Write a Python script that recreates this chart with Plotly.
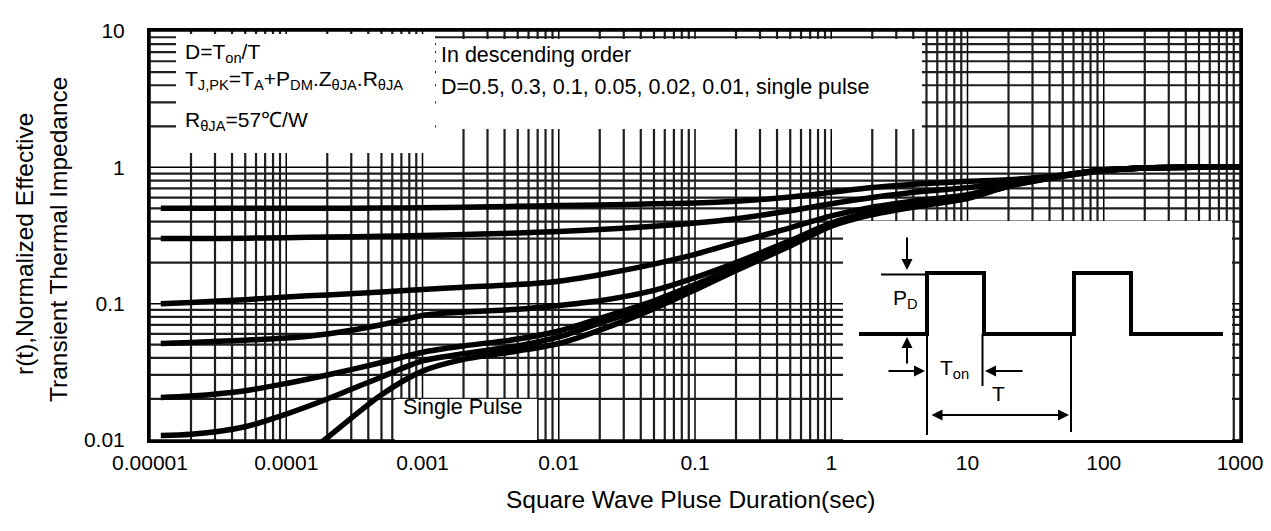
import math
import plotly.graph_objects as go

# ---------------- data ----------------
t_main = [1.2e-5, 2e-5, 5e-5, 1e-4, 2e-4, 5e-4, 1e-3, 2e-3, 5e-3, 1e-2, 2e-2, 5e-2,
          0.1, 0.2, 0.5, 1, 2, 5, 10, 20, 50, 100, 200, 500, 1000]
r_d050 = [0.500, 0.500, 0.500, 0.500, 0.501, 0.503, 0.505, 0.510, 0.518, 0.525, 0.530, 0.540,
          0.547, 0.565, 0.605, 0.655, 0.710, 0.760, 0.790, 0.810, 0.880, 0.960, 0.990, 1.0, 1.0]
r_d030 = [0.300, 0.300, 0.302, 0.305, 0.308, 0.312, 0.316, 0.322, 0.330, 0.338, 0.350, 0.370,
          0.390, 0.420, 0.480, 0.540, 0.600, 0.670, 0.710, 0.780, 0.875, 0.955, 0.990, 1.0, 1.0]
r_d010 = [0.100, 0.102, 0.107, 0.112, 0.116, 0.122, 0.127, 0.132, 0.138, 0.146, 0.163, 0.195,
          0.230, 0.280, 0.360, 0.440, 0.510, 0.580, 0.630, 0.750, 0.870, 0.950, 0.990, 1.0, 1.0]
r_d005 = [0.051, 0.052, 0.054, 0.056, 0.060, 0.070, 0.082, 0.087, 0.091, 0.097, 0.105, 0.125,
          0.155, 0.200, 0.290, 0.390, 0.470, 0.550, 0.610, 0.740, 0.870, 0.950, 0.990, 1.0, 1.0]
r_d002 = [0.0205, 0.021, 0.023, 0.026, 0.030, 0.037, 0.044, 0.049, 0.055, 0.063, 0.078, 0.105,
          0.138, 0.185, 0.275, 0.380, 0.460, 0.540, 0.600, 0.735, 0.870, 0.950, 0.990, 1.0, 1.0]
r_d001 = [0.0108, 0.011, 0.0125, 0.0155, 0.020, 0.029, 0.038, 0.043, 0.049, 0.057, 0.072, 0.098,
          0.132, 0.180, 0.270, 0.375, 0.455, 0.535, 0.595, 0.730, 0.865, 0.950, 0.990, 1.0, 1.0]
t_single = [1.5e-4, 2e-4, 5e-4, 1e-3, 2e-3, 5e-3, 1e-2, 2e-2, 5e-2,
            0.1, 0.2, 0.5, 1, 2, 5, 10, 20, 50, 100, 200, 500, 1000]
r_single = [0.0082, 0.0104, 0.0215, 0.032, 0.039, 0.045, 0.051, 0.064, 0.092,
            0.126, 0.175, 0.265, 0.370, 0.450, 0.530, 0.590, 0.725, 0.860, 0.945, 0.990, 1.0, 1.0]

x_tickvals = [1e-5, 1e-4, 1e-3, 1e-2, 1e-1, 1, 10, 100, 1000]
x_ticktext = ["0.00001", "0.0001", "0.001", "0.01", "0.1", "1", "10", "100", "1000"]
y_tickvals = [0.01, 0.1, 1, 10]
y_ticktext = ["0.01", "0.1", "1", "10"]

x_minor = [k * 10.0 ** d for d in range(-5, 3) for k in range(2, 10)]
y_minor = [k * 10.0 ** d for d in range(-2, 1) for k in range(2, 10)]

X_RANGE = [-5, 3]
Y_RANGE = [-2, 1]

FONT = "Liberation Sans, Arial, Helvetica, sans-serif"
W, H = 1271, 531
L, R, T, B = 142, 1232, 23, 432


def px(x):
    return (x - L) / (R - L)


def py(y):
    return (B - y) / (B - T)


def xdom(v):
    return (math.log10(v) - X_RANGE[0]) / (X_RANGE[1] - X_RANGE[0])


def ydom(v):
    return (math.log10(v) - Y_RANGE[0]) / (Y_RANGE[1] - Y_RANGE[0])


fig = go.Figure()
for tt, rr in [(t_main, r_d050), (t_main, r_d030), (t_main, r_d010), (t_main, r_d005),
               (t_main, r_d002), (t_main, r_d001), (t_single, r_single)]:
    fig.add_trace(go.Scatter(x=tt, y=rr, mode="lines",
                             line=dict(color="black", width=5.5, shape="spline", smoothing=0.8),
                             hoverinfo="skip", showlegend=False))

shapes = []
# grid drawn as background shapes (so white boxes can cover it while curves stay on top)
for v in x_minor:
    shapes.append(dict(type="line", xref="x domain", yref="y domain", x0=xdom(v), x1=xdom(v),
                       y0=0, y1=1, line=dict(color="#1e1e1e", width=2.2), layer="below"))
for v in x_tickvals:
    shapes.append(dict(type="line", xref="x domain", yref="y domain", x0=xdom(v), x1=xdom(v),
                       y0=0, y1=1, line=dict(color="black", width=1.5), layer="below"))
for v in y_minor:
    shapes.append(dict(type="line", xref="x domain", yref="y domain", y0=ydom(v), y1=ydom(v),
                       x0=0, x1=1, line=dict(color="#1e1e1e", width=2.2), layer="below"))
for v in y_tickvals:
    shapes.append(dict(type="line", xref="x domain", yref="y domain", y0=ydom(v), y1=ydom(v),
                       x0=0, x1=1, line=dict(color="black", width=1.5), layer="below"))

# white boxes covering the grid
for (x0, y0, x1, y1) in [(168, 26, 427, 145), (428, 31, 914, 121),
                         (387, 391, 529, 432), (835, 213, 1224, 432)]:
    shapes.append(dict(type="rect", xref="x domain", yref="y domain",
                       x0=px(x0), x1=px(x1), y0=py(y1), y1=py(y0),
                       fillcolor="white", line=dict(width=0), layer="below"))

# inset waveform
wave = [(851, 326), (919, 326), (919, 265), (976, 265), (976, 326), (1066, 326),
        (1066, 265), (1123, 265), (1123, 326), (1215, 326)]
path = "M " + " L ".join(f"{px(a):.5f},{py(b):.5f}" for a, b in wave)
shapes.append(dict(type="path", xref="paper", yref="paper", path=path,
                   line=dict(color="black", width=4), layer="above"))
for (x0, y0, x1, y1) in [(873, 266.5, 919, 266.5), (919, 326, 919, 427),
                         (974.5, 326, 974.5, 378), (1063, 326, 1063, 424)]:
    shapes.append(dict(type="line", xref="paper", yref="paper",
                       x0=px(x0), y0=py(y0), x1=px(x1), y1=py(y1),
                       line=dict(color="black", width=2), layer="above"))

ann = []
def txt(s, x, y, size=21, xanchor="left", **kw):
    ann.append(dict(text=s, x=px(x), y=py(y), xref="paper", yref="paper",
                    xanchor=xanchor, yanchor="middle", showarrow=False,
                    font=dict(family=FONT, size=size, color="black"), **kw))

txt("D=T<sub>on</sub>/T", 175, 45)
txt("T<sub>J,PK</sub>=T<sub>A</sub>+P<sub>DM</sub>.Z<sub>θJA</sub>.R<sub>θJA</sub>", 175, 72)
txt("R<sub>θJA</sub>=57℃/W", 175, 113)
txt("In descending order", 431, 47, size=21.5)
txt("D=0.5, 0.3, 0.1, 0.05, 0.02, 0.01, single pulse", 431, 79, size=21.5)
txt("Single Pulse", 455, 399, size=21.5, xanchor="center")
txt("P<sub>D</sub>", 897, 291, size=21, xanchor="center")
txt("T<sub>on</sub>", 946, 361, size=21, xanchor="center")
txt("T", 990, 385, size=21, xanchor="center")
txt("Square Wave Pluse Duration(sec)", 682, 491, size=24.5, xanchor="center")
txt("r(t),Normalized Effective", 16, 236, size=24.5, xanchor="center", textangle=-90)
txt("Transient Thermal Impedance", 50, 232, size=24.5, xanchor="center", textangle=-90)


def arrow(hx, hy, ax, ay, side="end"):
    ann.append(dict(text="", x=px(hx), y=py(hy), xref="paper", yref="paper",
                    ax=ax, ay=ay, axref="pixel", ayref="pixel", showarrow=True,
                    arrowhead=2, arrowsize=1.1, arrowwidth=2, arrowcolor="black",
                    arrowside=side, standoff=0, startstandoff=0))

arrow(899, 262, 0, -34)
arrow(899, 329, 0, 28)
arrow(917, 363, -38, 0)
arrow(977, 363, 39, 0)
arrow(1061, 407, -139, 0, side="end+start")

axis_common = dict(showline=True, mirror=True, linewidth=3, linecolor="black",
                   showgrid=False, zeroline=False, ticks="", tickmode="array",
                   tickfont=dict(family=FONT, size=21, color="black"))

fig.update_layout(
    width=W, height=H,
    margin=dict(l=L, r=W - R, t=T, b=H - B),
    paper_bgcolor="white", plot_bgcolor="white",
    showlegend=False,
    xaxis=dict(type="log", range=X_RANGE, tickvals=x_tickvals, ticktext=x_ticktext,
               ticklabelstandoff=2, **axis_common),
    yaxis=dict(type="log", range=Y_RANGE, tickvals=y_tickvals, ticktext=y_ticktext,
               ticklabelstandoff=18, **axis_common),
    shapes=shapes,
    annotations=ann,
)

fig.write_html("out.html")
